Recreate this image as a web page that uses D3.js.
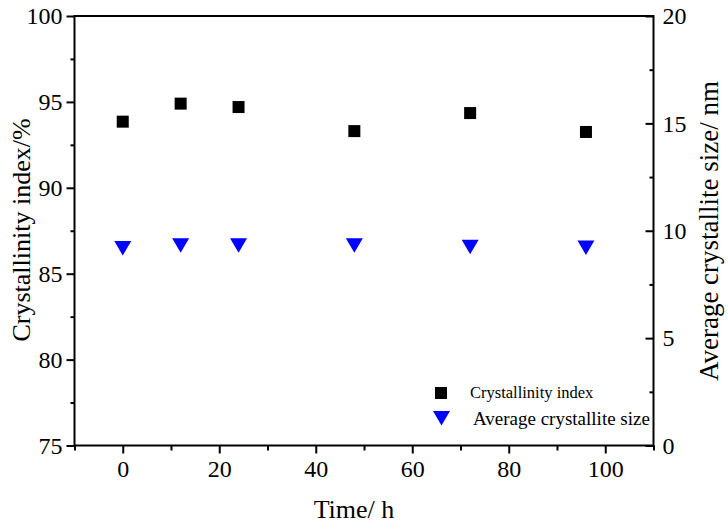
<!DOCTYPE html>
<html>
<head>
<meta charset="utf-8">
<script src="https://cdn.jsdelivr.net/npm/d3@7"></script>
<style>
  body { margin: 0; background: #fff; }
  svg text { font-family: "Liberation Serif", "Times New Roman", serif; fill: #000; }
</style>
</head>
<body>
<svg width="728" height="526"></svg>
<script>
// time points (h)
const times = [0, 12, 24, 48, 72, 96];
// crystallinity index, % (left axis)
const crystallinity = [93.85, 94.9, 94.7, 93.3, 94.35, 93.25];
// average crystallite size, nm (right axis)
const crystalSize = [9.2, 9.33, 9.33, 9.33, 9.25, 9.22];

const xTicks = [0, 20, 40, 60, 80, 100];
const leftTicks = [75, 80, 85, 90, 95, 100];
const rightTicks = [0, 5, 10, 15, 20];

const svg = d3.select('svg');
const plotL = 74.5, plotR = 653.5, plotT = 16, plotB = 445.5;
const serif = '"Liberation Serif", "Times New Roman", serif';

const x = d3.scaleLinear().domain([-10, 110]).range([plotL, plotR]);
const yL = d3.scaleLinear().domain([75, 100]).range([plotB, plotT]);
const yR = d3.scaleLinear().domain([0, 20]).range([plotB, plotT]);

// frame
svg.append('rect')
  .attr('x', plotL).attr('y', plotT)
  .attr('width', plotR - plotL).attr('height', plotB - plotT)
  .attr('fill', 'none').attr('stroke', '#000').attr('stroke-width', 2);

//minor ticks first, then major axis with labels
function styleAxis(g) {
  g.attr('font-family', serif).attr('font-size', 24);
  g.select('.domain').remove();
  g.selectAll('line').attr('stroke', '#000').attr('stroke-width', 2);
  g.selectAll('text').style('font-family', serif).style('font-size', '24px');
}

svg.append('g')
  .attr('transform', 'translate(0,' + plotB + ')')
  .call(d3.axisBottom(x).tickValues(d3.range(-10, 111, 20)).tickSize(5).tickFormat(''))
  .call(styleAxis);
svg.append('g')
  .attr('transform', 'translate(0,' + plotB + ')')
  .call(d3.axisBottom(x).tickValues(xTicks).tickSize(8).tickPadding(6))
  .call(styleAxis);

svg.append('g')
  .attr('transform', 'translate(' + plotL + ',0)')
  .call(d3.axisLeft(yL).tickValues(d3.range(77.5, 100, 5)).tickSize(4).tickFormat(''))
  .call(styleAxis);
svg.append('g')
  .attr('transform', 'translate(' + plotL + ',0)')
  .call(d3.axisLeft(yL).tickValues(leftTicks).tickSize(8).tickPadding(4))
  .call(styleAxis);

// right axis ticks point inward
svg.append('g')
  .attr('transform', 'translate(' + plotR + ',0)')
  .call(d3.axisRight(yR).tickValues(d3.range(2.5, 20, 5)).tickSizeInner(-4).tickFormat(''))
  .call(styleAxis);
svg.append('g')
  .attr('transform', 'translate(' + plotR + ',0)')
  .call(d3.axisRight(yR).tickValues(rightTicks).tickSizeInner(-8).tickPadding(9))
  .call(styleAxis);

// axis titles
svg.append('text')
  .attr('x', x(50) - 10).attr('y', 518)
  .attr('text-anchor', 'middle')
  .style('font-size', '26px')
  .text('Time/ h');
svg.append('text')
  .attr('transform', 'translate(30,230) rotate(-90)')
  .attr('text-anchor', 'middle')
  .style('font-size', '26px')
  .text('Crystallinity index/%');
svg.append('text')
  .attr('transform', 'translate(718,231) rotate(-90)')
  .attr('text-anchor', 'middle')
  .style('font-size', '27px')
  .text('Average crystallite size/ nm');

// data points
const sq = 12;
svg.selectAll('rect.pt')
  .data(times)
  .enter()
  .append('rect')
  .attr('class', 'pt')
  .attr('x', (d) => x(d) - sq / 2)
  .attr('y', (d, i) => yL(crystallinity[i]) - sq / 2)
  .attr('width', sq).attr('height', sq)
  .attr('fill', '#000');

const tri = 'M-8.5,-7 L8.5,-7 L0,7.5 Z';
svg.selectAll('path.pt')
  .data(times)
  .enter()
  .append('path')
  .attr('class', 'pt')
  .attr('d', tri)
  .attr('transform', (d, i) => 'translate(' + x(d) + ',' + yR(crystalSize[i]) + ')')
  .attr('fill', '#0000ff');

// legend
svg.append('rect')
  .attr('x', 435).attr('y', 387).attr('width', sq).attr('height', sq)
  .attr('fill', '#000');
svg.append('text')
  .attr('x', 470).attr('y', 398)
  .style('font-size', '16.5px')
  .text('Crystallinity index');
svg.append('path')
  .attr('d', tri)
  .attr('transform', 'translate(441.5,418)')
  .attr('fill', '#0000ff');
svg.append('text')
  .attr('x', 473).attr('y', 425)
  .style('font-size', '19px')
  .text('Average crystallite size');
</script>
</body>
</html>
